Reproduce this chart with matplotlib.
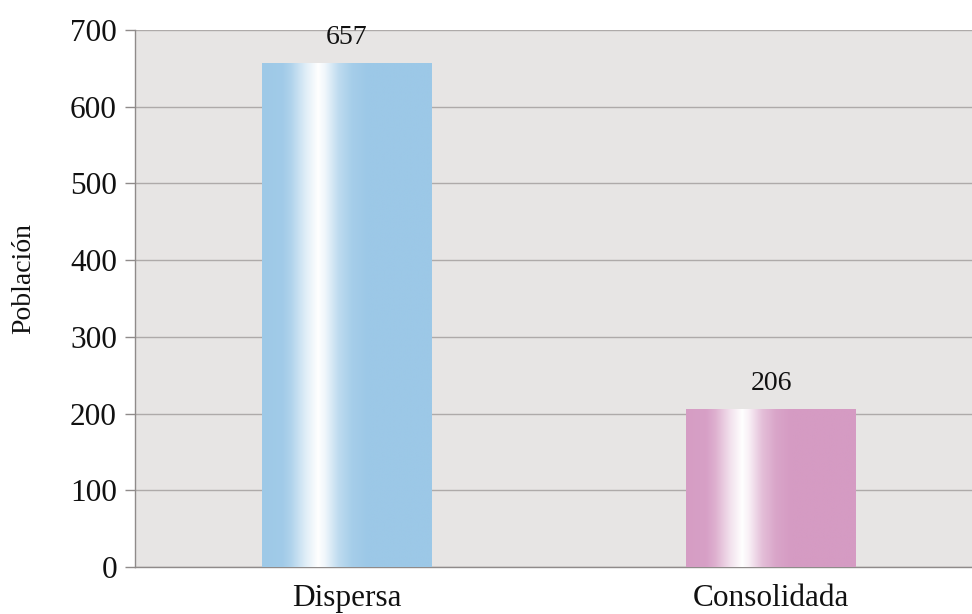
import numpy as np
import matplotlib
matplotlib.use("Agg")
import matplotlib.pyplot as plt
from matplotlib.colors import to_rgb

categories = ["Dispersa", "Consolidada"]
values = [657, 206]
bar_colors = ["#9cc8e7", "#d59bc3"]
y_ticks = [0, 100, 200, 300, 400, 500, 600, 700]

plt.rcParams["font.family"] = ["Liberation Serif", "DejaVu Serif"]

fig = plt.figure(figsize=(9.72, 6.14), dpi=100)
ax = fig.add_axes([135 / 972, 47 / 614, 848 / 972, 537 / 614])
ax.set_facecolor("#e7e5e4")

x = np.arange(len(categories))
bars = ax.bar(x, values, width=0.4, color="none", edgecolor="none", zorder=3)

# glossy highlight profile across each bar's width (0 = base colour, 1 = white)
stops_t = [0.0, 0.12, 0.17, 0.26, 0.33, 0.37, 0.45, 0.53, 0.62, 1.0]
stops_w = [0.02, 0.05, 0.2, 0.7, 1.0, 0.85, 0.35, 0.1, 0.0, 0.0]
t = np.linspace(0, 1, 400)
w = np.interp(t, stops_t, stops_w)

for rect, col in zip(bars, bar_colors):
    base = np.array(to_rgb(col))
    row = base[None, :] * (1 - w[:, None]) + w[:, None]
    img = np.repeat(row[None, :, :], 2, axis=0)
    x0, y0 = rect.get_x(), rect.get_y()
    im = ax.imshow(img, extent=[x0, x0 + rect.get_width(), y0, y0 + rect.get_height()],
                   aspect="auto", interpolation="bilinear", zorder=3)
    im.set_clip_path(rect)

for xi, v in zip(x, values):
    ax.annotate(f"{v}", (xi, v), xytext=(0, 9), textcoords="offset points",
                ha="center", va="bottom", fontsize=20, color="#111111")

ax.set_xlim(-0.5, 1.5)
ax.set_ylim(0, 700)
ax.set_yticks(y_ticks)
ax.set_yticklabels([str(v) for v in y_ticks], fontsize=22.5, color="#111111")
ax.set_xticks(x)
ax.set_xticklabels(categories, fontsize=22.5, color="#111111")
ax.tick_params(axis="x", length=0, pad=12)
ax.tick_params(axis="y", length=7, width=1, color="#8f8b8a", pad=6, direction="out")

ax.grid(axis="y", color="#aeaaa9", linewidth=1.0, zorder=1)
ax.set_axisbelow(True)
for side in ["top", "right"]:
    ax.spines[side].set_visible(False)
for side in ["left", "bottom"]:
    ax.spines[side].set_color("#8f8b8a")
    ax.spines[side].set_linewidth(1.0)

ax.set_ylabel("Población", fontsize=20, color="#111111")
ax.yaxis.set_label_coords(-0.117, 0.538)

fig.savefig("out.png", dpi=100)
